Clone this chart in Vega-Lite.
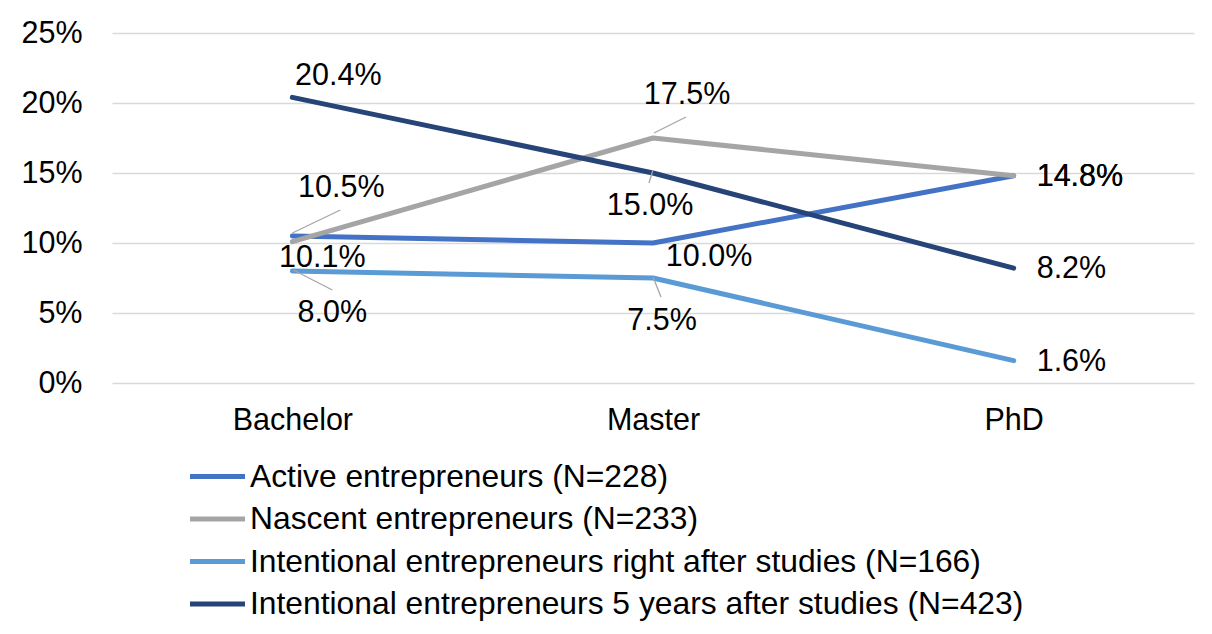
{
  "$schema": "https://vega.github.io/schema/vega-lite/v6.json",
  "autosize": {"type": "none"},
  "width": 1082,
  "height": 350,
  "padding": {"left": 112, "top": 33, "right": 18, "bottom": 251},
  "background": "white",
  "config": {
    "view": {"stroke": null},
    "font": "Liberation Sans",
    "text": {"font": "Liberation Sans", "fontSize": 30.5, "color": "#000000"}
  },
  "data": {
    "values": [
      {"series": "Active entrepreneurs (N=228)", "level": "Bachelor", "value": 0.105},
      {"series": "Active entrepreneurs (N=228)", "level": "Master", "value": 0.100},
      {"series": "Active entrepreneurs (N=228)", "level": "PhD", "value": 0.148},
      {"series": "Nascent entrepreneurs (N=233)", "level": "Bachelor", "value": 0.101},
      {"series": "Nascent entrepreneurs (N=233)", "level": "Master", "value": 0.175},
      {"series": "Nascent entrepreneurs (N=233)", "level": "PhD", "value": 0.148},
      {"series": "Intentional entrepreneurs right after studies (N=166)", "level": "Bachelor", "value": 0.080},
      {"series": "Intentional entrepreneurs right after studies (N=166)", "level": "Master", "value": 0.075},
      {"series": "Intentional entrepreneurs right after studies (N=166)", "level": "PhD", "value": 0.016},
      {"series": "Intentional entrepreneurs 5 years after studies (N=423)", "level": "Bachelor", "value": 0.204},
      {"series": "Intentional entrepreneurs 5 years after studies (N=423)", "level": "Master", "value": 0.150},
      {"series": "Intentional entrepreneurs 5 years after studies (N=423)", "level": "PhD", "value": 0.082}
    ]
  },
  "encoding": {
    "x": {
      "field": "level", "type": "ordinal",
      "sort": ["Bachelor", "Master", "PhD"],
      "scale": {"type": "point", "padding": 0.5},
      "axis": {"title": null, "domain": false, "ticks": false, "grid": false, "labelAngle": 0,
        "labelFont": "Liberation Sans", "labelFontSize": 30.5, "labelColor": "#000000", "labelPadding": 22}
    },
    "y": {
      "field": "value", "type": "quantitative",
      "scale": {"domain": [0, 0.25], "nice": false},
      "axis": {"title": null, "format": ".0%", "values": [0, 0.05, 0.1, 0.15, 0.2, 0.25],
        "domain": false, "ticks": false, "gridColor": "#D9D9D9", "gridWidth": 1.3,
        "labelFont": "Liberation Sans", "labelFontSize": 30.5, "labelColor": "#000000", "labelPadding": 30}
    }
  },
  "layer": [
    {
      "mark": {"type": "line", "strokeWidth": 5, "strokeCap": "round", "strokeJoin": "round"},
      "encoding": {
        "color": {
          "field": "series", "type": "nominal",
          "scale": {
            "domain": ["Active entrepreneurs (N=228)", "Nascent entrepreneurs (N=233)", "Intentional entrepreneurs right after studies (N=166)", "Intentional entrepreneurs 5 years after studies (N=423)"],
            "range": ["#4472C4", "#A5A5A5", "#5B9BD5", "#264478"]
          },
          "legend": {
            "title": null, "orient": "none", "legendX": 89, "legendY": 427,
            "direction": "vertical",
            "symbolType": "M-2,0H2", "symbolSize": 756, "symbolStrokeWidth": 5,
            "labelFont": "Liberation Sans", "labelFontSize": 31.8, "labelColor": "#000000",
            "labelOffset": 16, "rowPadding": 8.5, "labelLimit": 1000
          }
        }
      }
    },
    {
      "transform": [{"filter": "datum.level == 'Bachelor' && indexof(datum.series, 'Active') == 0"}],
      "mark": {"type": "rule", "color": "#A6A6A6", "strokeWidth": 1.3, "yOffset": -3, "x2Offset": 48, "y2Offset": -26},
      "encoding": {"x2": {"field": "level"}, "y2": {"field": "value"}}
    },
    {
      "transform": [{"filter": "datum.level == 'Bachelor' && indexof(datum.series, 'right after') > 0"}],
      "mark": {"type": "rule", "color": "#A6A6A6", "strokeWidth": 1.3, "xOffset": 1, "yOffset": -1, "x2Offset": 40, "y2Offset": 19},
      "encoding": {"x2": {"field": "level"}, "y2": {"field": "value"}}
    },
    {
      "transform": [{"filter": "datum.level == 'Master' && indexof(datum.series, 'Nascent') == 0"}],
      "mark": {"type": "rule", "color": "#A6A6A6", "strokeWidth": 1.3, "xOffset": 1, "yOffset": -5, "x2Offset": 33, "y2Offset": -21},
      "encoding": {"x2": {"field": "level"}, "y2": {"field": "value"}}
    },
    {
      "transform": [{"filter": "datum.level == 'Master' && indexof(datum.series, '5 years') > 0"}],
      "mark": {"type": "rule", "color": "#A6A6A6", "strokeWidth": 1.3, "yOffset": -3, "x2Offset": -4, "y2Offset": 10},
      "encoding": {"x2": {"field": "level"}, "y2": {"field": "value"}}
    },
    {
      "transform": [{"filter": "datum.level == 'Master' && indexof(datum.series, 'right after') > 0"}],
      "mark": {"type": "rule", "color": "#A6A6A6", "strokeWidth": 1.3, "yOffset": -1, "x2Offset": 8, "y2Offset": 19},
      "encoding": {"x2": {"field": "level"}, "y2": {"field": "value"}}
    },
    {
      "transform": [{"filter": "datum.level == 'Bachelor' && indexof(datum.series, '5 years') > 0"}],
      "mark": {"type": "text", "dx": 46, "dy": -21},
      "encoding": {"text": {"field": "value", "format": ".1%"}}
    },
    {
      "transform": [{"filter": "datum.level == 'Bachelor' && indexof(datum.series, 'Active') == 0"}],
      "mark": {"type": "text", "dx": 49, "dy": -48},
      "encoding": {"text": {"field": "value", "format": ".1%"}}
    },
    {
      "transform": [{"filter": "datum.level == 'Bachelor' && indexof(datum.series, 'Nascent') == 0"}],
      "mark": {"type": "text", "dx": 30, "dy": 16},
      "encoding": {"text": {"field": "value", "format": ".1%"}}
    },
    {
      "transform": [{"filter": "datum.level == 'Bachelor' && indexof(datum.series, 'right after') > 0"}],
      "mark": {"type": "text", "dx": 40, "dy": 42},
      "encoding": {"text": {"field": "value", "format": ".1%"}}
    },
    {
      "transform": [{"filter": "datum.level == 'Master' && indexof(datum.series, 'Nascent') == 0"}],
      "mark": {"type": "text", "dx": 34, "dy": -43},
      "encoding": {"text": {"field": "value", "format": ".1%"}}
    },
    {
      "transform": [{"filter": "datum.level == 'Master' && indexof(datum.series, '5 years') > 0"}],
      "mark": {"type": "text", "dx": -3, "dy": 33},
      "encoding": {"text": {"field": "value", "format": ".1%"}}
    },
    {
      "transform": [{"filter": "datum.level == 'Master' && indexof(datum.series, 'Active') == 0"}],
      "mark": {"type": "text", "dx": 56, "dy": 14},
      "encoding": {"text": {"field": "value", "format": ".1%"}}
    },
    {
      "transform": [{"filter": "datum.level == 'Master' && indexof(datum.series, 'right after') > 0"}],
      "mark": {"type": "text", "dx": 9, "dy": 43},
      "encoding": {"text": {"field": "value", "format": ".1%"}}
    },
    {
      "transform": [{"filter": "datum.level == 'PhD'"}],
      "mark": {"type": "text", "align": "left", "dx": 23, "dy": 1},
      "encoding": {"text": {"field": "value", "format": ".1%"}}
    }
  ]
}
